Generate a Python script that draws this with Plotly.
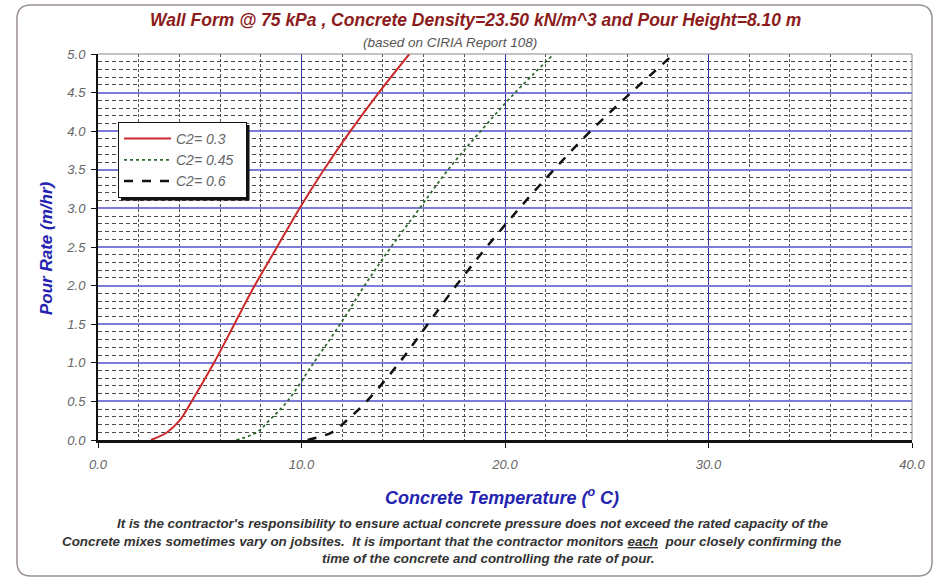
import plotly.graph_objects as go

# ---- data ----
pour_rate = [0.0, 0.1, 0.25, 0.5, 1.0, 1.5, 2.0, 2.5, 3.0, 3.5, 4.0, 4.5, 5.0]
temp_c2_030 = [2.6, 3.4, 4.0, 4.6, 5.7, 6.7, 7.7, 8.8, 9.9, 11.1, 12.4, 13.8, 15.3]
temp_c2_045 = [6.8, 7.8, 8.4, 9.3, 10.6, 11.9, 13.1, 14.4, 15.8, 17.2, 18.8, 20.5, 22.4]
temp_c2_060 = [10.3, 11.5, 12.2, 13.2, 14.8, 16.2, 17.6, 19.1, 20.7, 22.4, 24.2, 26.2, 28.3]
series_names = ["C2= 0.3", "C2= 0.45", "C2= 0.6"]

x_ticks = [0, 10, 20, 30, 40]
y_ticks = [0.0, 0.5, 1.0, 1.5, 2.0, 2.5, 3.0, 3.5, 4.0, 4.5, 5.0]

title_text = "Wall Form @ 75 kPa , Concrete Density=23.50 kN/m^3 and Pour Height=8.10 m"
subtitle_text = "(based on CIRIA Report 108)"
x_title = "Concrete Temperature (<sup>o</sup> C)"
y_title = "Pour Rate (m/hr)"
footer_1 = "It is the contractor's responsibility to ensure actual concrete pressure does not exceed the rated capacity of the"
footer_2 = "Concrete mixes sometimes vary on jobsites.  It is important that the contractor monitors <u>each</u>  pour closely confirming the"
footer_3 = "time of the concrete and controlling the rate of pour."

W, H = 940, 580
L, R, T, B = 98, 28, 54, 140
PW, PH = W - L - R, H - T - B

def px(x):
    return (x - L) / PW

def py(y):
    return (H - B - y) / PH

FONT = "Arial, 'Liberation Sans', sans-serif"
PAD = "\u00a0\u00a0"

fig = go.Figure()
fig.add_trace(go.Scatter(x=temp_c2_030, y=pour_rate, mode="lines", name=series_names[0] + PAD, legendgroup="a",
                         line=dict(color="#cc2a2a", width=2, shape="spline")))
fig.add_trace(go.Scatter(x=temp_c2_045, y=pour_rate, mode="lines", name=series_names[1] + PAD, legendgroup="b",
                         line=dict(color="#2f6a2f", width=1.8, dash="dot", shape="spline")))
fig.add_trace(go.Scatter(x=temp_c2_060, y=pour_rate, mode="lines", name=series_names[2] + PAD, legendgroup="c",
                         line=dict(color="#111111", width=2.5, dash="dash", shape="spline")))

fig.update_xaxes(range=[0, 40], tickvals=x_ticks, ticktext=[f"{v:.1f}" for v in x_ticks],
                 showgrid=True, gridcolor="#34349a", gridwidth=1.3,
                 showline=True, linecolor="#111", linewidth=3,
                 ticks="outside", ticklen=5, tickcolor="#111", tickwidth=1,
                 tickfont=dict(family=FONT, size=13, color="#666", style="italic"), ticklabelstandoff=5,
                 zeroline=False,
                 minor=dict(dtick=2, tick0=0, showgrid=True, gridcolor="#555", griddash="3px,2px",
                            gridwidth=1, ticks=""))
fig.update_yaxes(range=[0, 5], tickvals=y_ticks, ticktext=[f"{v:.1f}" for v in y_ticks],
                 showgrid=True, gridcolor="#7c7cd8", gridwidth=1.6,
                 showline=True, linecolor="#111", linewidth=2,
                 ticks="outside", ticklen=5, tickcolor="#111", tickwidth=1,
                 tickfont=dict(family=FONT, size=13, color="#666", style="italic"), ticklabelstandoff=3,
                 zeroline=False,
                 minor=dict(dtick=0.1, tick0=0, showgrid=True, gridcolor="#4a4a4a", griddash="4px,3px",
                            gridwidth=1, ticks=""))

shapes = [
    # outer rounded frame
    dict(type="path", xref="paper", yref="paper",
         path=(f"M {px(31)} {py(5)} L {px(918)} {py(5)} Q {px(932)} {py(5)} {px(932)} {py(19)} "
               f"L {px(932)} {py(562)} Q {px(932)} {py(576)} {px(918)} {py(576)} "
               f"L {px(31)} {py(576)} Q {px(17)} {py(576)} {px(17)} {py(562)} "
               f"L {px(17)} {py(19)} Q {px(17)} {py(5)} {px(31)} {py(5)} Z"),
         line=dict(color="#9a9090", width=1.5), layer="below"),
    # top and right plot border
    dict(type="line", xref="x domain", yref="y domain", x0=0, x1=1, y0=1, y1=1,
         line=dict(color="#888", width=1), layer="above"),
    dict(type="line", xref="x domain", yref="y domain", x0=1, x1=1, y0=0, y1=1,
         line=dict(color="#888", width=1), layer="above"),
    # legend shadow
    dict(type="rect", xref="paper", yref="paper", x0=px(121), x1=px(249.5), y0=py(200.5), y1=py(125),
         fillcolor="#111", line=dict(width=0), layer="above"),
]

annotations = [
    dict(text=f"<b><i>{title_text}</i></b>", x=px(475), y=py(20), xref="paper", yref="paper",
         showarrow=False, font=dict(family=FONT, size=17.5, color="#8c1c1c"), xanchor="center", yanchor="middle"),
    dict(text=f"<i>{subtitle_text}</i>", x=px(450), y=py(43), xref="paper", yref="paper",
         showarrow=False, font=dict(family=FONT, size=13.5, color="#555"), xanchor="center", yanchor="middle"),
    dict(text=f"<b><i>{x_title}</i></b>", x=px(502), y=py(496), xref="paper", yref="paper",
         showarrow=False, font=dict(family=FONT, size=18, color="#2424b0"), xanchor="center", yanchor="middle"),
    dict(text=f"<b><i>{y_title}</i></b>", x=px(46), y=py(248), xref="paper", yref="paper", textangle=-90,
         showarrow=False, font=dict(family=FONT, size=17, color="#2424b0"), xanchor="center", yanchor="middle"),
    dict(text=f"<b><i>{footer_1}</i></b>", x=px(115), y=py(523), xref="paper", yref="paper",
         showarrow=False, font=dict(family=FONT, size=13.4, color="#333"), xanchor="left", yanchor="middle"),
    dict(text=f"<b><i>{footer_2}</i></b>", x=px(60), y=py(541), xref="paper", yref="paper",
         showarrow=False, font=dict(family=FONT, size=13.4, color="#333"), xanchor="left", yanchor="middle"),
    dict(text=f"<b><i>{footer_3}</i></b>", x=px(488), y=py(558), xref="paper", yref="paper",
         showarrow=False, font=dict(family=FONT, size=13.4, color="#333"), xanchor="center", yanchor="middle"),
]

fig.update_layout(
    width=W, height=H,
    margin=dict(l=L, r=R, t=T, b=B),
    paper_bgcolor="white", plot_bgcolor="white",
    showlegend=True,
    legend=dict(x=px(118), y=py(122), xanchor="left", yanchor="top",
                bgcolor="white", bordercolor="#111", borderwidth=1,
                font=dict(family=FONT, size=14, color="#666", style="italic"),
                itemwidth=47, tracegroupgap=0, traceorder="grouped"),
    shapes=shapes, annotations=annotations,
    font=dict(family=FONT),
)

fig.write_html("out.html", config={"displayModeBar": False},
               post_script="document.body.style.margin='0';document.body.style.overflow='hidden';")
